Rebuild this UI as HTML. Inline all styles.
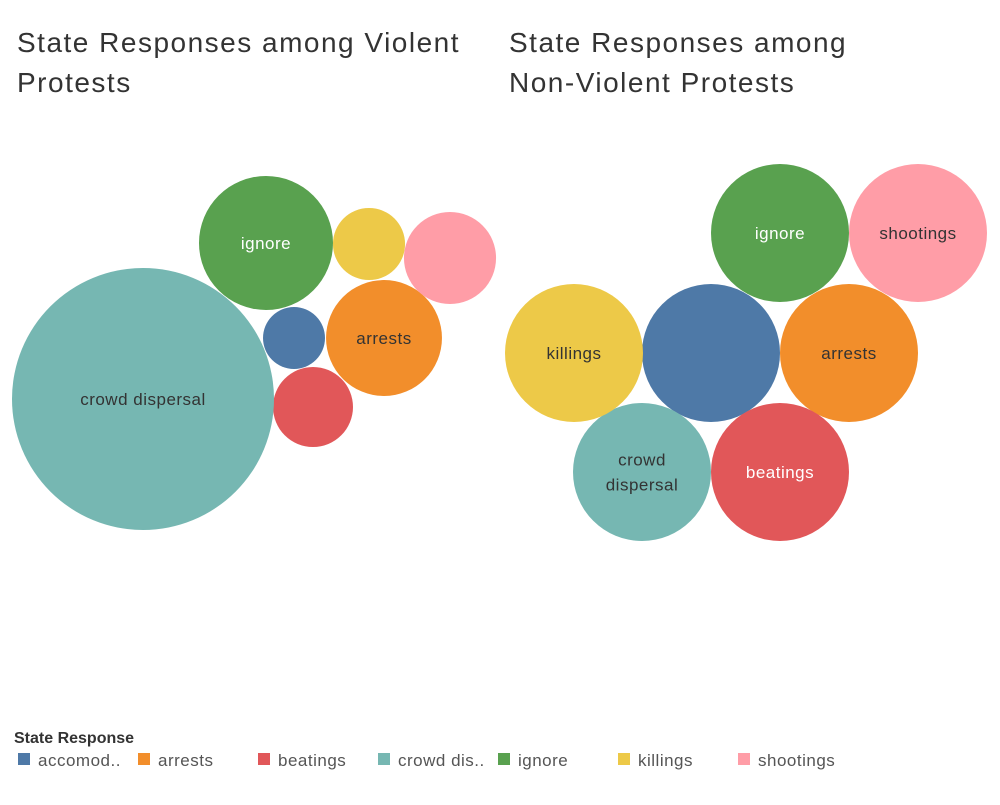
<!DOCTYPE html>
<html><head><meta charset="utf-8"><style>
body{margin:0;background:#fff;font-family:"Liberation Sans","DejaVu Sans",sans-serif;}
svg text{font-family:"Liberation Sans","DejaVu Sans",sans-serif;}
.title{letter-spacing:1.5px;}
</style></head><body>
<svg id="c" width="1000" height="800">
<text class="title" x="17" y="52" font-size="28" fill="#333">State Responses among Violent</text>
<text class="title" x="17" y="92" font-size="28" fill="#333">Protests</text>
<text class="title" x="509" y="52" font-size="28" fill="#333">State Responses among</text>
<text class="title" x="509" y="92" font-size="28" fill="#333">Non-Violent Protests</text>
<text x="14" y="743" font-size="16" font-weight="bold" fill="#333">State Response</text>
<g id="legend"></g>
<g id="left"></g>
<g id="right"></g>
</svg>
<script>
const categories=["accomodation","arrests","beatings","crowd dispersal","ignore","killings","shootings"];
const legendLabels=["accomod..","arrests","beatings","crowd dis..","ignore","killings","shootings"];
const colors=["#4e79a7","#f28e2b","#e15759","#76b7b2","#59a14f","#edc948","#ff9da7"];
const violentValues=[96,336,160,1716,449,130,212];
const nonViolentValues=[476,476,476,476,476,476,476];
// layout (pixel centers of packed bubbles)
const violentLayout=[[294,338],[384,338],[313,407],[143,399],[266,243],[369,244],[450,258]];
const nonViolentLayout=[[711,353],[849,353],[780,472],[642,472],[780,233],[574,353],[918,233]];
const textColors=["#fff","#333","#fff","#333","#fff","#333","#333"];
const NS="http://www.w3.org/2000/svg";
function drawPanel(g,values,layout,rMax,labels){
  const max=Math.max(...values);
  values.forEach((v,i)=>{
    const r=rMax*Math.sqrt(v/max);
    const c=document.createElementNS(NS,"circle");
    c.setAttribute("cx",layout[i][0]);c.setAttribute("cy",layout[i][1]);c.setAttribute("r",r);
    c.setAttribute("fill",colors[i]);
    
    
    g.appendChild(c);
    const lines=labels[i];
    lines.forEach((ln,j)=>{
      const t=document.createElementNS(NS,"text");
      t.setAttribute("x",layout[i][0]);
      t.setAttribute("y",layout[i][1]+6+(j-(lines.length-1)/2)*25);
      t.setAttribute("text-anchor","middle");t.setAttribute("font-size","17");
      t.setAttribute("letter-spacing","0.5");
      t.setAttribute("fill",textColors[i]);
      t.textContent=ln;
      
      
      g.appendChild(t);
    });
  });
}
drawPanel(document.getElementById("left"),violentValues,violentLayout,131,
  [[],["arrests"],[],["crowd dispersal"],["ignore"],[],[]]);
drawPanel(document.getElementById("right"),nonViolentValues,nonViolentLayout,69,
  [[],["arrests"],["beatings"],["crowd","dispersal"],["ignore"],["killings"],["shootings"]]);
const lg=document.getElementById("legend");
const lx=[18,138,258,378,498,618,738];
legendLabels.forEach((l,i)=>{
  const r=document.createElementNS(NS,"rect");
  r.setAttribute("x",lx[i]);r.setAttribute("y",753);r.setAttribute("width",12);r.setAttribute("height",12);
  r.setAttribute("fill",colors[i]);
  
  
  lg.appendChild(r);
  const t=document.createElementNS(NS,"text");
  t.setAttribute("x",lx[i]+20);t.setAttribute("y",766);t.setAttribute("font-size","17");t.setAttribute("fill","#555");
  t.setAttribute("letter-spacing","0.5");
  t.textContent=l;
  
  
  lg.appendChild(t);
});
</script>
</body></html>
